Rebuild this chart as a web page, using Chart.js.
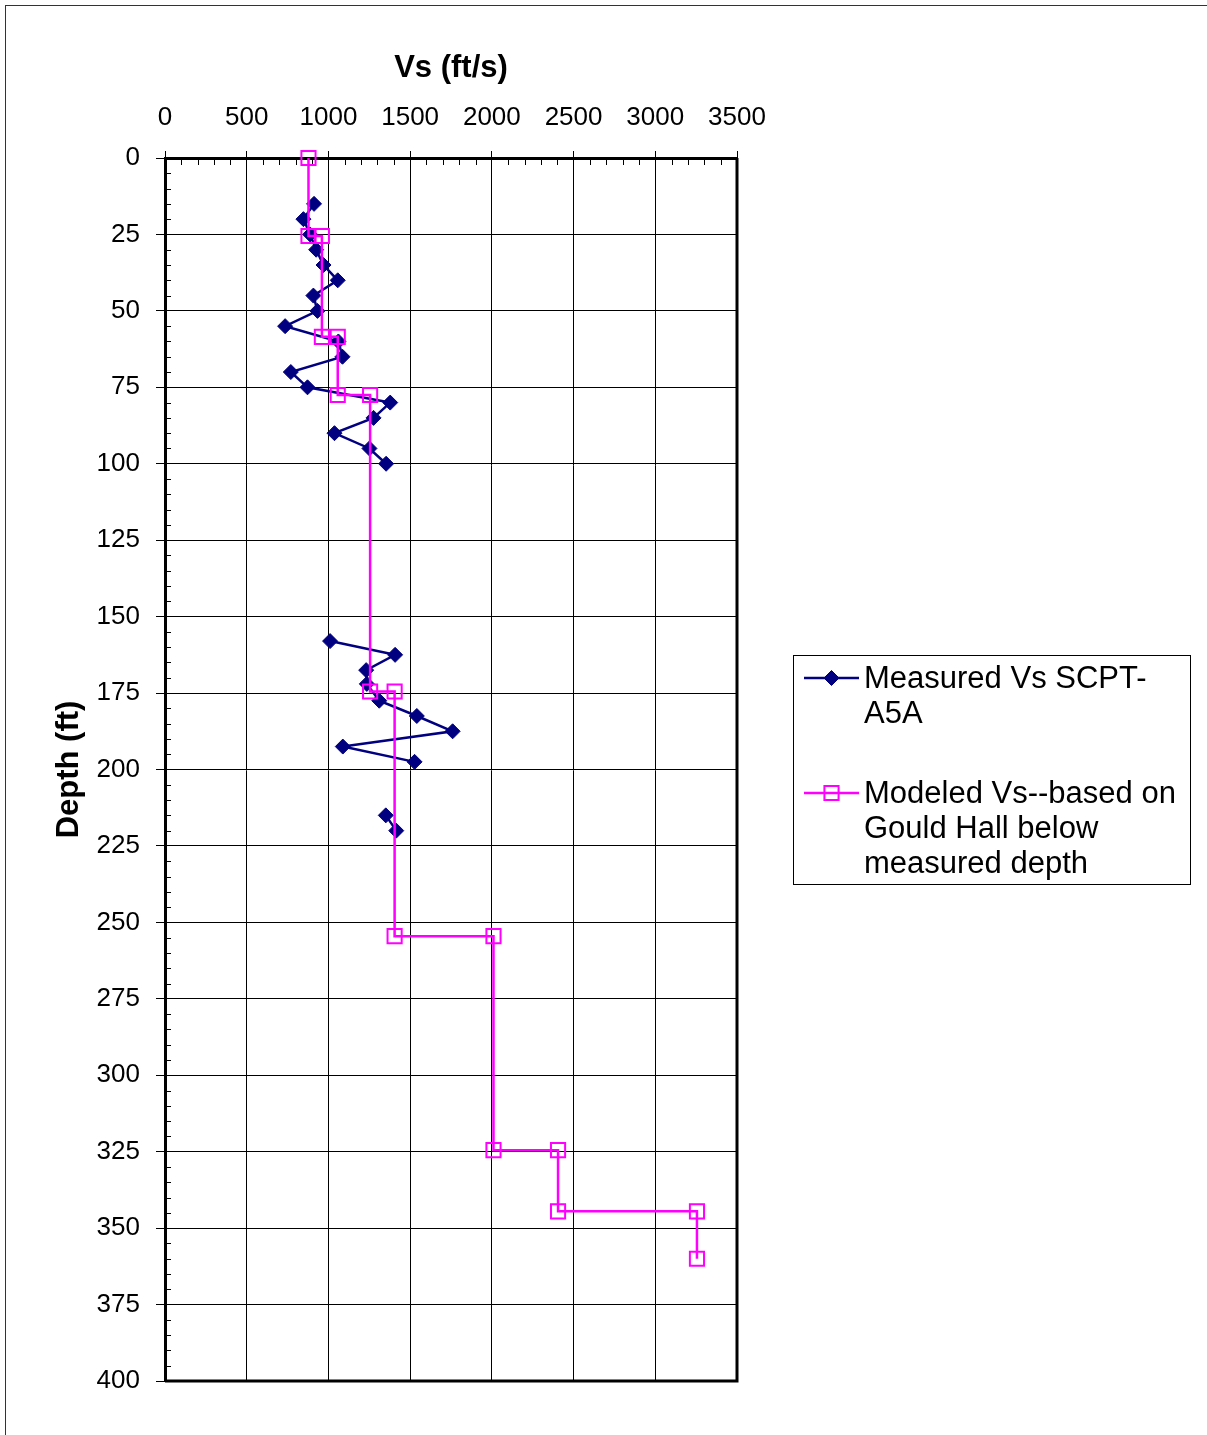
<!DOCTYPE html>
<html><head><meta charset="utf-8">
<script src="https://cdn.jsdelivr.net/npm/chart.js@4.4.0/dist/chart.umd.min.js"></script>
<style>
html,body{margin:0;padding:0;background:#fff;}
#wrap{position:relative;width:1207px;height:1435px;overflow:hidden;}
#frame{position:absolute;left:5px;top:5px;width:1300px;height:1500px;border-left:1px solid #333;border-top:1px solid #333;pointer-events:none;}
canvas{position:absolute;left:0;top:0;}
</style></head><body>
<div id="wrap"><canvas id="c" width="1207" height="1435"></canvas><div id="frame"></div></div>
<script>
// ---- data ----
const measuredDepth = [15,20,25,30,35,40,45,50,55,60,65,70,75,80,85,90,95,100,null,158,162.5,167.5,172,177.5,182.5,187.5,192.5,197.5,null,215,220];
const measuredVs    = [912,847,888,925,970,1057,908,933,735,1061,1086,770,872,1378,1276,1037,1251,1353,null,1010,1408,1231,1235,1311,1541,1760,1088,1527,null,1351,1415];
const modeledDepth = [0,25.5,25.5,58.5,58.5,77.5,77.5,174.5,174.5,254.5,254.5,324.5,324.5,344.5,344.5,360];
const modeledVs    = [878,878,960,960,1057,1057,1255,1255,1405,1405,2010,2010,2405,2405,3255,3255];
const xTicks = [0,500,1000,1500,2000,2500,3000,3500];
const yTicks = [0,25,50,75,100,125,150,175,200,225,250,275,300,325,350,375,400];
const xMinorStep = 100;
const yMinorStep = 5;
const xTitle = 'Vs (ft/s)';
const yTitle = 'Depth (ft)';
const seriesNames = [['Measured Vs SCPT-','A5A'],['Modeled Vs--based on','Gould Hall below','measured depth']];

const FONT = 'Liberation Sans, Arial, sans-serif';
const toPts = (xs, ys) => xs.map((v,i)=>({x:v, y:ys[i]}));

const extras = {
  id:'extras',
  beforeDatasetsDraw(chart){
    const ctx = chart.ctx, a = chart.chartArea;
    const xs = chart.scales.x, ys = chart.scales.y;
    ctx.save();
    ctx.strokeStyle = '#000';
    ctx.lineWidth = 1;
    ctx.beginPath();
    for (let v = xs.min; v <= xs.max; v += xMinorStep){
      if (v % 500 === 0) continue;
      const px = Math.round(xs.getPixelForValue(v)) + 0.5;
      ctx.moveTo(px, a.top); ctx.lineTo(px, a.top + 7);
    }
    for (let v = ys.min; v <= ys.max; v += yMinorStep){
      if (v % 25 === 0) continue;
      const py = Math.round(ys.getPixelForValue(v)) + 0.5;
      ctx.moveTo(a.left, py); ctx.lineTo(a.left + 6, py);
    }
    ctx.stroke();
    ctx.lineWidth = 3;
    ctx.beginPath();
    ctx.moveTo(a.right, a.top); ctx.lineTo(a.right, a.bottom);
    ctx.moveTo(a.left, a.bottom); ctx.lineTo(a.right + 1.5, a.bottom);
    ctx.stroke();
    ctx.restore();
  },
  afterDraw(chart){
    const ctx = chart.ctx;
    ctx.save();
    ctx.strokeStyle = '#000';
    ctx.lineWidth = 1;
    ctx.strokeRect(793.5, 655.5, 397, 229);
    const rows = [678, 793];
    chart.data.datasets.forEach((ds, i) => {
      const y = rows[i];
      ctx.strokeStyle = ds.borderColor;
      ctx.lineWidth = ds.borderWidth;
      ctx.beginPath(); ctx.moveTo(804, y); ctx.lineTo(859, y); ctx.stroke();
      ctx.fillStyle = ds.pointBackgroundColor;
      ctx.strokeStyle = ds.pointBorderColor;
      ctx.lineWidth = ds.pointBorderWidth;
      Chart.helpers.drawPoint(ctx, {pointStyle: ds.pointStyle, radius: ds.pointRadius, borderWidth: ds.pointBorderWidth, rotation:0}, 831.5, y);
      ctx.fillStyle = '#000';
      ctx.font = '31px ' + FONT;
      ctx.textBaseline = 'middle';
      ctx.textAlign = 'left';
      ds.legendLines.forEach((t, k) => ctx.fillText(t, 864, y + 1 + k * 35));
    });
    ctx.restore();
  }
};

new Chart(document.getElementById('c'), {
  type: 'scatter',
  data: {
    datasets: [
      { label: seriesNames[0].join(' '), legendLines: seriesNames[0], data: toPts(measuredVs, measuredDepth),
        showLine: true, spanGaps: false, borderColor: '#000080', backgroundColor: '#000080',
        pointBackgroundColor: '#000080', pointBorderColor: '#000080', borderWidth: 2.5,
        pointStyle: 'rectRot', pointRadius: 7.5, pointBorderWidth: 1, order: 2, clip: false },
      { label: seriesNames[1].join(' '), legendLines: seriesNames[1], data: toPts(modeledVs, modeledDepth),
        showLine: true, borderColor: '#FF00FF', backgroundColor: 'rgba(0,0,0,0)',
        pointBackgroundColor: 'rgba(0,0,0,0)', pointBorderColor: '#FF00FF', borderWidth: 2.5,
        pointStyle: 'rect', pointRadius: 10, pointBorderWidth: 2, order: 1, clip: false }
    ]
  },
  options: {
    responsive: false, animation: false,
    layout: { padding: { left: 0, top: 1, right: 470, bottom: 54 } },
    plugins: { legend: { display: false }, tooltip: { enabled: false } },
    scales: {
      x: {
        type: 'linear', position: 'top', min: 0, max: 3500,
        afterBuildTicks: s => { s.ticks = xTicks.map(v => ({ value: v })); },
        afterFit: s => { s.height = 157; },
        ticks: { font: { family: FONT, size: 26 }, color: '#000', padding: 18, autoSkip: false, maxRotation: 0,
                 callback: v => String(v) },
        grid: { color: '#000', lineWidth: 1, tickLength: 7, drawTicks: true },
        border: { color: '#000', width: 3 },
        title: { display: true, text: xTitle, color: '#000', font: { family: FONT, size: 31, weight: 'bold' }, padding: { top: 49, bottom: 0 } }
      },
      y: {
        type: 'linear', reverse: true, min: 0, max: 400,
        afterBuildTicks: s => { s.ticks = yTicks.map(v => ({ value: v })); },
        afterFit: s => { s.width = 165; },
        ticks: { font: { family: FONT, size: 26 }, color: '#000', padding: 16, autoSkip: false,
                 callback: v => String(v) },
        grid: { color: '#000', lineWidth: 1, tickLength: 9, drawTicks: true },
        border: { color: '#000', width: 3 },
        title: { display: true, text: yTitle, color: '#000', font: { family: FONT, size: 31, weight: 'bold' }, padding: { top: 51, bottom: 0 } }
      }
    }
  },
  plugins: [extras]
});
</script>
</body></html>
